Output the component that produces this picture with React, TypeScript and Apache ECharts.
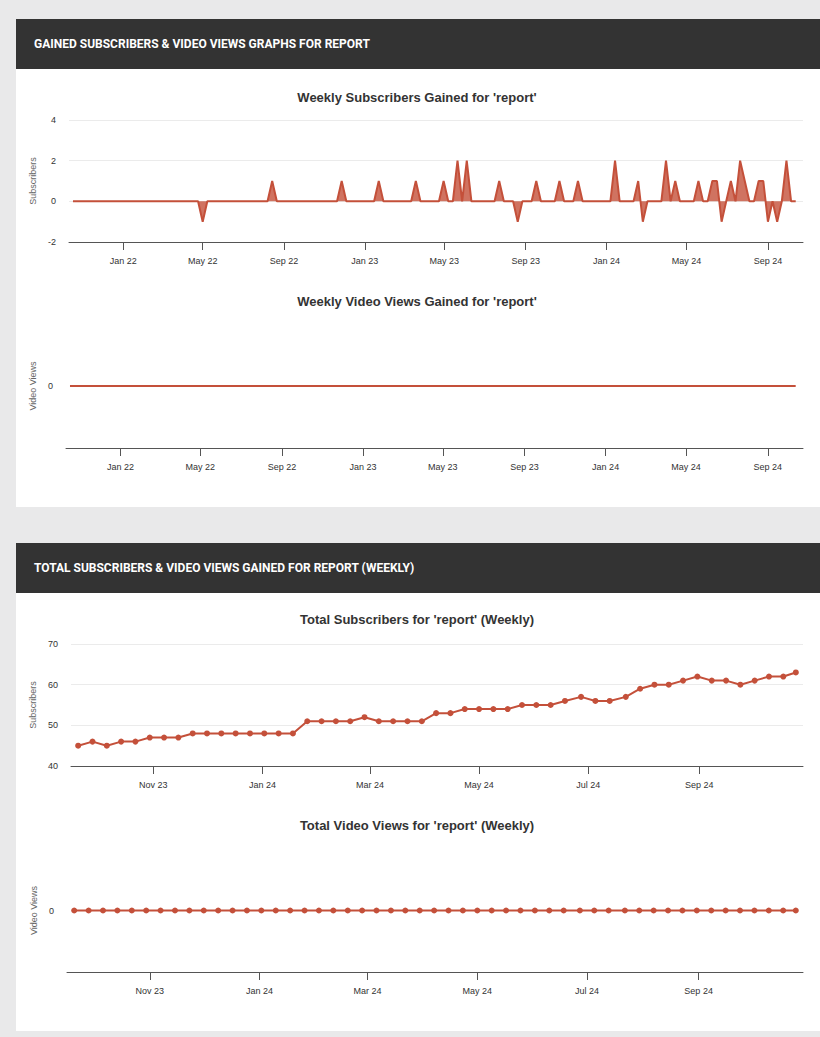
import React, { useEffect, useRef } from "react";
import * as echarts from "echarts";

// ---------- data ----------
const MONTHS = ["Jan", "Feb", "Mar", "Apr", "May", "Jun", "Jul", "Aug", "Sep", "Oct", "Nov", "Dec"];

const headerTitles = [
  "GAINED SUBSCRIBERS & VIDEO VIEWS GRAPHS FOR REPORT",
  "TOTAL SUBSCRIBERS & VIDEO VIEWS GAINED FOR REPORT (WEEKLY)",
];
const chartTitles = [
  "Weekly Subscribers Gained for 'report'",
  "Weekly Video Views Gained for 'report'",
  "Total Subscribers for 'report' (Weekly)",
  "Total Video Views for 'report' (Weekly)",
];

// weekly series: one value per week starting at weeklyStart
const weeklyStart = "2021-10-17";
const weeklySubscribers = [
  0, 0, 0, 0, 0, 0, 0, 0, 0, 0,
  0, 0, 0, 0, 0, 0, 0, 0, 0, 0,
  0, 0, 0, 0, 0, 0, 0, 0, -1, 0,
  0, 0, 0, 0, 0, 0, 0, 0, 0, 0,
  0, 0, 0, 1, 0, 0, 0, 0, 0, 0,
  0, 0, 0, 0, 0, 0, 0, 0, 1, 0,
  0, 0, 0, 0, 0, 0, 1, 0, 0, 0,
  0, 0, 0, 0, 1, 0, 0, 0, 0, 0,
  1, 0, 0, 2, 0, 2, 0, 0, 0, 0,
  0, 0, 1, 0, 0, 0, -1, 0, 0, 0,
  1, 0, 0, 0, 0, 1, 0, 0, 0, 1,
  0, 0, 0, 0, 0, 0, 0, 2, 0, 0,
  0, 0, 1, -1, 0, 0, 0, 0, 2, 0,
  1, 0, 0, 0, 0, 1, 0, 0, 1, 1,
  -1, 0, 1, 0, 2, 1, 0, 0, 1, 1,
  -1, 0, -1, 0, 2, 0, 0,
];
const weeklyVideoViews = [
  0, 0, 0, 0, 0, 0, 0, 0, 0, 0,
  0, 0, 0, 0, 0, 0, 0, 0, 0, 0,
  0, 0, 0, 0, 0, 0, 0, 0, 0, 0,
  0, 0, 0, 0, 0, 0, 0, 0, 0, 0,
  0, 0, 0, 0, 0, 0, 0, 0, 0, 0,
  0, 0, 0, 0, 0, 0, 0, 0, 0, 0,
  0, 0, 0, 0, 0, 0, 0, 0, 0, 0,
  0, 0, 0, 0, 0, 0, 0, 0, 0, 0,
  0, 0, 0, 0, 0, 0, 0, 0, 0, 0,
  0, 0, 0, 0, 0, 0, 0, 0, 0, 0,
  0, 0, 0, 0, 0, 0, 0, 0, 0, 0,
  0, 0, 0, 0, 0, 0, 0, 0, 0, 0,
  0, 0, 0, 0, 0, 0, 0, 0, 0, 0,
  0, 0, 0, 0, 0, 0, 0, 0, 0, 0,
  0, 0, 0, 0, 0, 0, 0, 0, 0, 0,
  0, 0, 0, 0, 0, 0, 0,
];
const weeklyRange = ["2021-10-11", "2024-10-24"];
const weeklyTicks = [
  "2022-01-01", "2022-05-01", "2022-09-01",
  "2023-01-01", "2023-05-01", "2023-09-01",
  "2024-01-01", "2024-05-01", "2024-09-01",
];

const totalDates = [
  "2023-09-20", "2023-09-28", "2023-10-06", "2023-10-14", "2023-10-22",
  "2023-10-30", "2023-11-07", "2023-11-15", "2023-11-23", "2023-12-01",
  "2023-12-09", "2023-12-17", "2023-12-25", "2024-01-02", "2024-01-10",
  "2024-01-18", "2024-01-26", "2024-02-03", "2024-02-11", "2024-02-19",
  "2024-02-27", "2024-03-06", "2024-03-14", "2024-03-22", "2024-03-30",
  "2024-04-07", "2024-04-15", "2024-04-23", "2024-05-01", "2024-05-09",
  "2024-05-17", "2024-05-25", "2024-06-02", "2024-06-10", "2024-06-18",
  "2024-06-27", "2024-07-05", "2024-07-13", "2024-07-22", "2024-07-30",
  "2024-08-07", "2024-08-15", "2024-08-23", "2024-08-31", "2024-09-08",
  "2024-09-16", "2024-09-24", "2024-10-02", "2024-10-10", "2024-10-18",
  "2024-10-25",
];
const totalSubscribers = [
  45, 46, 45, 46, 46, 47, 47, 47, 48, 48,
  48, 48, 48, 48, 48, 48, 51, 51, 51, 51,
  52, 51, 51, 51, 51, 53, 53, 54, 54, 54,
  54, 55, 55, 55, 56, 57, 56, 56, 57, 59,
  60, 60, 61, 62, 61, 61, 60, 61, 62, 62,
  63,
];
const totalVideoViews = [
  0, 0, 0, 0, 0, 0, 0, 0, 0, 0,
  0, 0, 0, 0, 0, 0, 0, 0, 0, 0,
  0, 0, 0, 0, 0, 0, 0, 0, 0, 0,
  0, 0, 0, 0, 0, 0, 0, 0, 0, 0,
  0, 0, 0, 0, 0, 0, 0, 0, 0, 0,
  0,
];
const totalRange = ["2023-09-16", "2024-10-29"];
const totalTicks = [
  "2023-11-01", "2024-01-01", "2024-03-01", "2024-05-01", "2024-07-01", "2024-09-01",
];

// ---------- helpers ----------
const DAY = 86400000;
const ts = (s: string) => Date.parse(s + "T00:00:00Z");
const fmtMonth = (v: number) => {
  const d = new Date(v);
  return MONTHS[d.getUTCMonth()] + " " + String(d.getUTCFullYear()).slice(2);
};
const FONT = "'Liberation Sans', Arial, Helvetica, sans-serif";
const RED = "#c4503a";
const AXIS = "#555555";

const weeklyDates = weeklySubscribers.map((_, i) => ts(weeklyStart) + i * 7 * DAY);

function xAxisCfg(gridIndex: number, range: string[], ticks: string[]) {
  const tv = ticks.map(ts);
  return {
    type: "value",
    gridIndex,
    min: ts(range[0]),
    max: ts(range[1]),
    axisLine: { onZero: false, lineStyle: { color: AXIS, width: 1 } },
    axisTick: { show: true, length: 8, lineStyle: { color: AXIS }, customValues: tv },
    axisLabel: {
      customValues: tv,
      formatter: (v: number) => fmtMonth(v),
      margin: 14,
      color: "#333",
      fontSize: 9,
      fontFamily: FONT,
    },
    splitLine: { show: false },
  };
}

function yAxisCfg(gridIndex: number, name: string, nameGap: number, extra: any) {
  return {
    type: "value",
    gridIndex,
    name,
    nameLocation: "middle",
    nameGap,
    nameTextStyle: { color: "#666", fontSize: 9, fontFamily: FONT },
    axisLine: { show: false },
    axisTick: { show: false },
    axisLabel: { color: "#333", fontSize: 9, margin: 13, fontFamily: FONT },
    splitLine: { lineStyle: { color: "#ebebeb", width: 1 } },
    ...extra,
  };
}

export default function App() {
  const ref = useRef<HTMLDivElement>(null);

  useEffect(() => {
    if (!ref.current) return;
    const chart = echarts.init(ref.current, null, { renderer: "svg" });

    const titleTops = [91, 295, 613, 819];

    const option: any = {
      animation: false,
      backgroundColor: "#e9e9ea",
      title: chartTitles.map((t, i) => ({
        text: t,
        left: 417,
        top: titleTops[i],
        textAlign: "center",
        padding: 0,
        textStyle: { fontSize: 13, fontWeight: "bold", color: "#333", fontFamily: FONT },
      })),
      graphic: {
        elements: [
          { type: "rect", z: -10, silent: true, shape: { x: 16, y: 19, width: 804, height: 488 }, style: { fill: "#ffffff" } },
          { type: "rect", z: -9, silent: true, shape: { x: 16, y: 19, width: 804, height: 50 }, style: { fill: "#333333" } },
          { type: "rect", z: -10, silent: true, shape: { x: 16, y: 543, width: 804, height: 488 }, style: { fill: "#ffffff" } },
          { type: "rect", z: -9, silent: true, shape: { x: 16, y: 543, width: 804, height: 50 }, style: { fill: "#333333" } },
          {
            type: "text", z: 5, silent: true, x: 34, y: 44,
            style: { text: headerTitles[0], fill: "#ffffff", font: "bold 12px Roboto", verticalAlign: "middle", textVerticalAlign: "middle" },
          },
          {
            type: "text", z: 5, silent: true, x: 34, y: 568,
            style: { text: headerTitles[1], fill: "#ffffff", font: "bold 12px Roboto", verticalAlign: "middle", textVerticalAlign: "middle" },
          },
        ],
      },
      grid: [
        { left: 69, top: 120, width: 734, height: 122 },
        { left: 66, top: 324, width: 737, height: 124 },
        { left: 71, top: 644, width: 732, height: 122 },
        { left: 67, top: 849, width: 736, height: 123 },
      ],
      xAxis: [
        xAxisCfg(0, weeklyRange, weeklyTicks),
        xAxisCfg(1, weeklyRange, weeklyTicks),
        xAxisCfg(2, totalRange, totalTicks),
        xAxisCfg(3, totalRange, totalTicks),
      ],
      yAxis: [
        yAxisCfg(0, "Subscribers", 24, { min: -2, max: 4, interval: 2 }),
        yAxisCfg(1, "Video Views", 21, {
          min: -1, max: 1, interval: 1,
          axisLabel: { color: "#333", fontSize: 9, margin: 13, fontFamily: FONT, formatter: (v: number) => (v === 0 ? "0" : "") },
          splitLine: { show: false },
        }),
        yAxisCfg(2, "Subscribers", 28, { min: 40, max: 70, interval: 10 }),
        yAxisCfg(3, "Video Views", 23, {
          min: -1, max: 1, interval: 1,
          axisLabel: { color: "#333", fontSize: 9, margin: 13, fontFamily: FONT, formatter: (v: number) => (v === 0 ? "0" : "") },
          splitLine: { show: false },
        }),
      ],
      series: [
        {
          type: "line", xAxisIndex: 0, yAxisIndex: 0, silent: true,
          data: weeklyDates.map((d, i) => [d, weeklySubscribers[i]]),
          showSymbol: false,
          lineStyle: { color: RED, width: 2 },
          itemStyle: { color: RED },
          areaStyle: { color: RED, opacity: 0.8 },
        },
        {
          type: "line", xAxisIndex: 1, yAxisIndex: 1, silent: true,
          data: weeklyDates.map((d, i) => [d, weeklyVideoViews[i]]),
          showSymbol: false,
          lineStyle: { color: RED, width: 2 },
          itemStyle: { color: RED },
        },
        {
          type: "line", xAxisIndex: 2, yAxisIndex: 2, silent: true,
          data: totalDates.map((d, i) => [ts(d), totalSubscribers[i]]),
          symbol: "circle", symbolSize: 6, showSymbol: true, showAllSymbol: true,
          lineStyle: { color: RED, width: 2 },
          itemStyle: { color: RED },
        },
        {
          type: "line", xAxisIndex: 3, yAxisIndex: 3, silent: true,
          data: totalDates.map((d, i) => [ts(d), totalVideoViews[i]]),
          symbol: "circle", symbolSize: 6, showSymbol: true, showAllSymbol: true,
          lineStyle: { color: RED, width: 2 },
          itemStyle: { color: RED },
        },
      ],
    };

    chart.setOption(option);
    return () => chart.dispose();
  }, []);

  return (
    <div
      ref={ref}
      style={{ position: "absolute", left: 0, top: 0, width: 820, height: 1037 }}
    />
  );
}
